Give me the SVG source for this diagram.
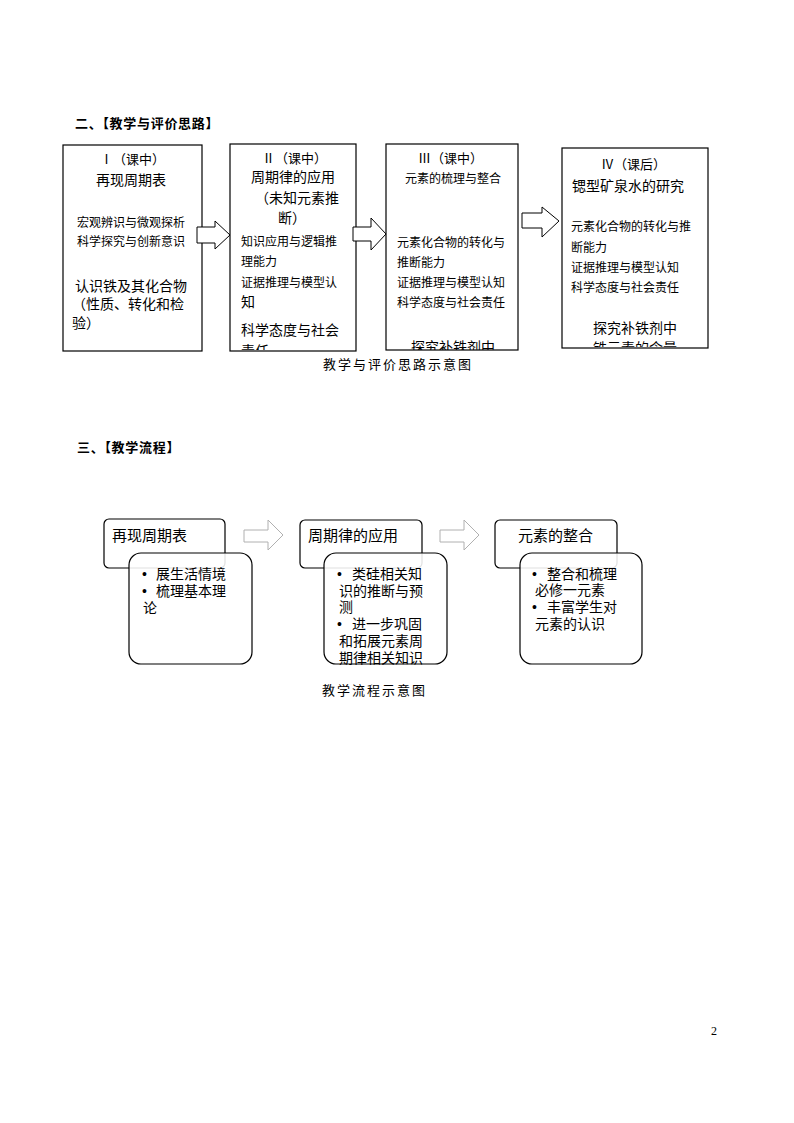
<svg xmlns="http://www.w3.org/2000/svg" width="794" height="1123" viewBox="0 0 794 1123">
<style>
text{font-family:"Liberation Sans","Noto Sans CJK SC",sans-serif;fill:#000}
.h{font-size:13px;font-weight:bold;letter-spacing:0.7px}
.t13{font-size:13px}
.t14{font-size:14px}
.t12{font-size:12px}
.t15{font-size:15px}
.cap{font-family:"Noto Sans CJK SC",serif;font-size:13px;letter-spacing:2px}
.box{fill:#fff;stroke:#000;stroke-width:1.2}
.arr{fill:#fff;stroke:#000;stroke-width:1}
.garr{fill:#fff;stroke:#b0b0b0;stroke-width:1}
.rtop{fill:#fff;stroke:#000;stroke-width:1.2}
.rbot{fill:#fff;fill-opacity:0.88;stroke:#000;stroke-width:1.2}
</style>
<defs>
<clipPath id="c1"><rect x="63" y="146" width="139" height="205"/></clipPath>
<clipPath id="c2"><rect x="230" y="145" width="126" height="205"/></clipPath>
<clipPath id="c3"><rect x="386" y="145" width="132" height="205"/></clipPath>
<clipPath id="c4"><rect x="562" y="149" width="146" height="198"/></clipPath>
</defs>
<rect width="794" height="1123" fill="#fff"/>
<text class="h" x="75" y="128">二、【教学与评价思路】</text>

<g id="n1">
<rect class="box" x="63" y="145" width="139" height="206"/>
<g clip-path="url(#c1)">
<text class="t13" x="100" y="164">Ⅰ（课中）</text>
<text class="t14" x="96" y="185">再现周期表</text>
<text class="t12" x="77" y="227">宏观辨识与微观探析</text>
<text class="t12" x="77" y="246">科学探究与创新意识</text>
<text class="t14" x="75" y="291">认识铁及其化合物</text>
<text class="t14" x="72" y="309">（性质、转化和检</text>
<text class="t14" x="72" y="328">验）</text>
</g>
</g>

<g id="n2">
<rect class="box" x="230" y="144" width="126" height="207"/>
<g clip-path="url(#c2)">
<text class="t13" x="262" y="163">Ⅱ（课中）</text>
<text class="t14" x="251" y="182">周期律的应用</text>
<text class="t14" x="255" y="203">（未知元素推</text>
<text class="t14" x="278" y="223">断）</text>
<text class="t12" x="241" y="246">知识应用与逻辑推</text>
<text class="t12" x="241" y="266">理能力</text>
<text class="t12" x="241" y="287">证据推理与模型认</text>
<text class="t14" x="241" y="307">知</text>
<text class="t14" x="241" y="335">科学态度与社会</text>
<text class="t14" x="241" y="356">责任</text>
</g>
</g>

<g id="n3">
<rect class="box" x="386" y="144" width="132" height="206"/>
<g clip-path="url(#c3)">
<text class="t13" x="418" y="163">Ⅲ（课中）</text>
<text class="t12" x="405" y="183">元素的梳理与整合</text>
<text class="t12" x="397" y="247">元素化合物的转化与</text>
<text class="t12" x="397" y="267">推断能力</text>
<text class="t12" x="397" y="287">证据推理与模型认知</text>
<text class="t12" x="397" y="307">科学态度与社会责任</text>
<text class="t14" x="411" y="352">探究补铁剂中</text>
</g>
</g>

<g id="n4">
<rect class="box" x="562" y="148" width="146" height="200"/>
<g clip-path="url(#c4)">
<text class="t13" x="601" y="169">Ⅳ（课后）</text>
<text class="t14" x="572" y="191">锶型矿泉水的研究</text>
<text class="t12" x="571" y="231">元素化合物的转化与推</text>
<text class="t12" x="571" y="252">断能力</text>
<text class="t12" x="571" y="272">证据推理与模型认知</text>
<text class="t12" x="571" y="292">科学态度与社会责任</text>
<text class="t14" x="593" y="333">探究补铁剂中</text>
<text class="t14" x="593" y="353">铁元素的含量</text>
</g>
</g>

<g id="connectors">
<polygon class="arr" points="197,227 215,227 215,221 230,235 215,249 215,243 197,243"/>
<polygon class="arr" points="353,227 371,227 371,218 386,234 371,250 371,241 353,241"/>
<polygon class="arr" points="522,213 542,213 542,207 559,221 542,237 542,228 522,228"/>
<polygon class="garr" points="244,530 268,530 268,520 283,535 268,550 268,542 244,542"/>
<polygon class="garr" points="440,530 464,530 464,520 479,535 464,550 464,542 440,542"/>
</g>

<text class="cap" x="323" y="369">教学与评价思路示意图</text>

<text class="h" x="77" y="452">三、【教学流程】</text>

<g id="f1">
<rect class="rtop" x="104" y="519" width="121" height="49" rx="5"/>
<text class="t15" x="112" y="541">再现周期表</text>
<rect class="rbot" x="129" y="553" width="123" height="111" rx="12"/>
<text class="t14" x="142" y="579">•</text>
<text class="t14" x="156" y="579">展生活情境</text>
<text class="t14" x="142" y="596">•</text>
<text class="t14" x="156" y="596">梳理基本理</text>
<text class="t14" x="143" y="613">论</text>
</g>

<g id="f2">
<rect class="rtop" x="300" y="520" width="122" height="48" rx="5"/>
<text class="t15" x="308" y="541">周期律的应用</text>
<rect class="rbot" x="324" y="553" width="123" height="111" rx="12"/>
<text class="t14" x="337" y="579">•</text>
<text class="t14" x="352" y="579">类硅相关知</text>
<text class="t14" x="339" y="596">识的推断与预</text>
<text class="t14" x="339" y="612">测</text>
<text class="t14" x="337" y="629">•</text>
<text class="t14" x="352" y="629">进一步巩固</text>
<text class="t14" x="339" y="646">和拓展元素周</text>
<text class="t14" x="339" y="663">期律相关知识</text>
</g>

<g id="f3">
<rect class="rtop" x="495" y="520" width="122" height="48" rx="5"/>
<text class="t15" x="518" y="541">元素的整合</text>
<rect class="rbot" x="520" y="553" width="122" height="111" rx="12"/>
<text class="t14" x="532" y="579">•</text>
<text class="t14" x="547" y="579">整合和梳理</text>
<text class="t14" x="535" y="595">必修一元素</text>
<text class="t14" x="532" y="612">•</text>
<text class="t14" x="547" y="612">丰富学生对</text>
<text class="t14" x="535" y="629">元素的认识</text>
</g>

<text class="cap" x="322" y="695">教学流程示意图</text>

<text style="font-family:'Liberation Serif',serif;font-size:12px" x="711" y="1035">2</text>
</svg>
